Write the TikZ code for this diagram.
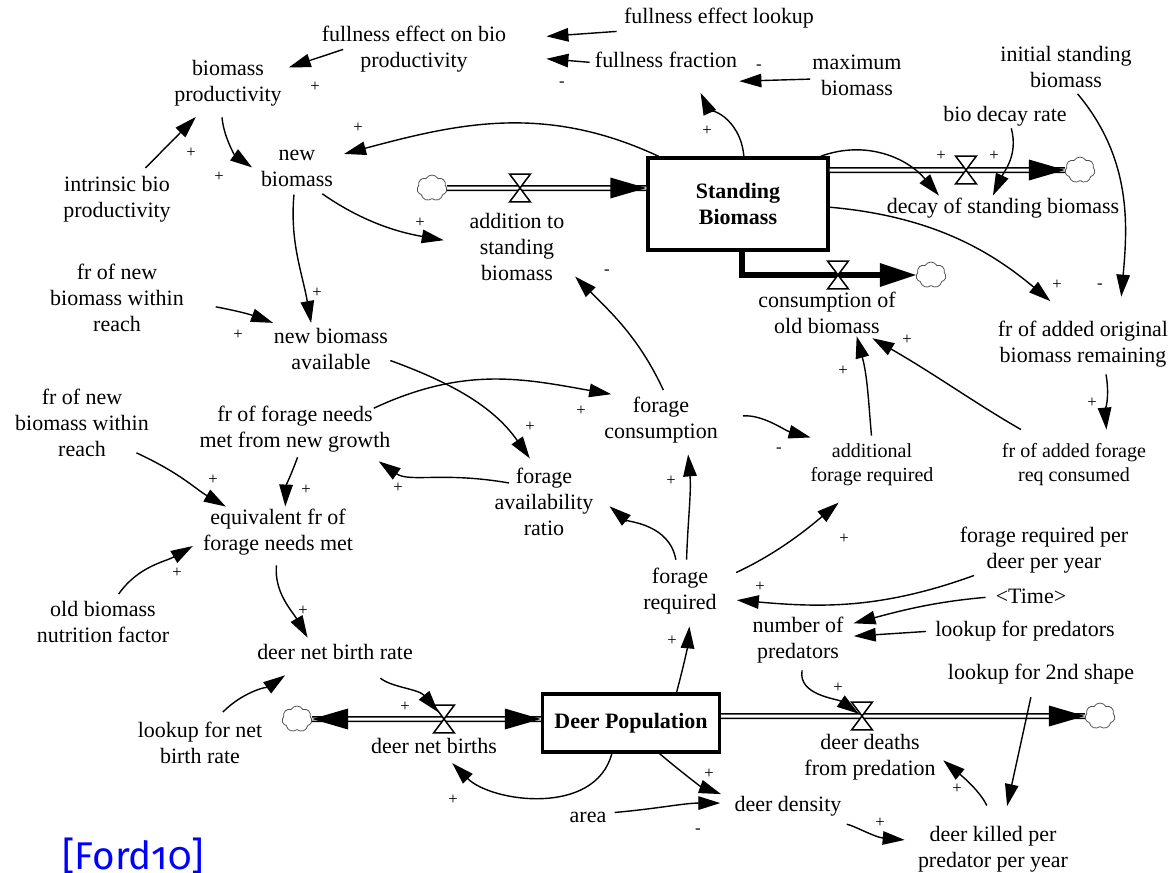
\documentclass[tikz,border=0pt]{standalone}
\usepackage{fontspec}
\setmainfont{Liberation Serif}
\newfontfamily\fordfont[Numbers=OldStyle]{Fira Sans}
\usetikzlibrary{arrows.meta,shapes.symbols}
\begin{document}
\begin{tikzpicture}[x=0.02cm,y=0.02cm,
  lbl/.style={align=center, inner sep=0.4mm, font=\fontsize{12.5}{14.8}\selectfont},
  sml/.style={align=center, inner sep=0.4mm, font=\fontsize{11.4}{13.6}\selectfont},
  stock/.style={draw, line width=0.7mm, align=center, minimum width=36mm, minimum height=18.4mm, font=\bfseries\fontsize{12.5}{14.8}\selectfont},
  sgn/.style={inner sep=0, font=\fontsize{9.5}{10}\selectfont},
  link/.style={line width=0.28mm, -{Triangle[length=4.4mm,width=2.7mm]}},
  pipe/.style={draw, line width=0.3mm, double=white, double distance=0.6mm},
  thickpipe/.style={draw, line width=1.2mm, line join=miter},
  cloudn/.style={cloud, cloud puffs=7, cloud puff arc=120, aspect=1.2, draw=black!70, line width=0.15mm, fill=white, minimum width=6mm, minimum height=5.2mm, inner sep=0},
  valve/.style={inner sep=0, minimum width=4mm, minimum height=5.4mm},
  valvel/.style={fill=white, line width=0.3mm, line join=miter},
  fordn/.style={inner sep=0, text=blue, font=\fordfont\fontsize{22}{26}\selectfont}]
\useasboundingbox (0,0) rectangle (1171,-873);

% ---------- variables ----------
\node[lbl] (fe) at (414,-49) {fullness effect on bio\\productivity};
\node[lbl] (bp) at (228,-83) {biomass\\productivity};
\node[lbl] (fel) at (719,-18) {fullness effect lookup};
\node[lbl] (ff) at (666,-60) {fullness fraction};
\node[lbl] (mb) at (857,-75) {maximum\\biomass};
\node[lbl] (isb) at (1066,-67) {initial standing\\biomass};
\node[lbl] (bdr) at (1005,-116) {bio decay rate};
\node[stock] (SB) at (738,-204) {Standing\\Biomass};
\node[lbl] (ast) at (517,-247) {addition to\\standing\\biomass};
\node[lbl] (nb) at (297,-168) {new\\biomass};
\node[lbl] (ibp) at (117,-199) {intrinsic bio\\productivity};
\node[lbl] (dsb) at (1003,-208) {decay of standing biomass};
\node[lbl] (cob) at (827,-313) {consumption of\\old biomass};
\node[lbl] (fao) at (1083,-344) {fr of added original\\biomass remaining};
\node[lbl] (fnr1) at (117,-298) {fr of new\\biomass within\\reach};
\node[lbl] (nba) at (331,-349) {new biomass\\available};
\node[lbl] (fnr2) at (82,-423) {fr of new\\biomass within\\reach};
\node[lbl] (frfn) at (295,-429) {fr of forage needs\\met from new growth};
\node[lbl] (fc) at (661,-420) {forage\\consumption};
\node[sml] (afr) at (872,-465) {additional\\forage required};
\node[sml] (farc) at (1074,-465) {fr of added forage\\req consumed};
\node[lbl] (far) at (544,-502) {forage\\availability\\ratio};
\node[lbl] (efn) at (278,-532) {equivalent fr of\\forage needs met};
\node[lbl] (fr) at (680,-591) {forage\\required};
\node[lbl] (frpd) at (1044,-550) {forage required per\\deer per year};
\node[lbl] (time) at (1031,-596) {<Time>};
\node[lbl] (np) at (798,-640) {number of\\predators};
\node[lbl] (lfp) at (1025,-631) {lookup for predators};
\node[lbl] (obn) at (103,-622) {old biomass\\nutrition factor};
\node[lbl] (dnbr) at (335,-652) {deer net birth rate};
\node[lbl] (l2s) at (1041,-674) {lookup for 2nd shape};
\node[lbl] (lnbr) at (200,-743) {lookup for net\\birth rate};
\node[stock, minimum width=35.4mm, minimum height=11.6mm] (DP) at (631,-723) {Deer Population};
\node[lbl] (dnb) at (434,-746) {deer net births};
\node[lbl] (ddp) at (870,-757) {deer deaths\\from predation};
\node[lbl] (area) at (588,-817) {area};
\node[lbl] (dd) at (788,-806) {deer density};
\node[lbl] (dkp) at (993,-849) {deer killed per\\predator per year};
\node[fordn, anchor=base west] (ford) at (62,-869) {[Ford10]};

% ---------- clouds and valves ----------
\node[cloudn] (c1) at (432,-188) {};
\node[cloudn] (c2) at (1080,-170) {};
\node[cloudn] (c3) at (931,-275) {};
\node[cloudn] (c4) at (297,-719) {};
\node[cloudn] (c5) at (1100,-716) {};
\node[valve] (v1) at (520,-188) {};
\node[valve] (v2) at (966,-170) {};
\node[valve] (v3) at (838,-275) {};
\node[valve] (v4) at (444,-719) {};
\node[valve] (v5) at (862,-716) {};

% ---------- pipes ----------
\draw[pipe] (c1) -- (SB.west |- c1);
\fill (SB.west |- c1) -- ++(-36,10.5) -- ++(0,-21) -- cycle;
\draw[pipe] (SB.east |- c2) -- (c2);
\fill (c2.west) -- ++(-36,10.5) -- ++(0,-21) -- cycle;
\draw[thickpipe] ([xshift=0.8mm]SB.south) |- ([xshift=-4mm]c3.west);
\fill (c3.west) -- ++(-36,12) -- ++(0,-24) -- cycle;
\draw[pipe] (c4) -- (DP.west |- c4);
\fill (c4.east) -- ++(36,10.5) -- ++(0,-21) -- cycle;
\fill (DP.west |- c4) -- ++(-36,10.5) -- ++(0,-21) -- cycle;
\draw[pipe] (DP.east |- c5) -- (c5);
\fill (c5.west) -- ++(-36,10.5) -- ++(0,-21) -- cycle;
\foreach \v in {v1,v2,v3,v4,v5}
  \draw[valvel] (\v.north west) -- (\v.north east) -- (\v.south west) -- (\v.south east) -- cycle;

% ---------- links ----------
\draw[link, shorten <=-5mm, shorten >=1mm] (fe.185) -- (bp.14);
\draw[link, shorten <=2.8mm, shorten >=7.6mm] (fel.188) -- (fe.6);
\draw[link, shorten <=0.6mm, shorten >=7.6mm] (ff.182) -- (fe.-4);
\draw[link] (mb.185) -- ([yshift=-2.2mm]ff.south east);
\draw[link, shorten >=5mm] (SB.83) to[out=95,in=-65] (ff.-23);
\draw[link, shorten >=1.8mm] (SB.149) to[out=155,in=15] (nb.17);
\draw[link, shorten <=1.6mm, shorten >=2.4mm] (ibp.48) -- (bp.227);
\draw[link, shorten <=1.8mm, shorten >=1.6mm] (bp.255) to[out=-85,in=145] (nb.186);
\draw[link, shorten <=1.8mm, shorten >=4.8mm] (nb.-49) to[out=-35,in=170] (ast.177);
\draw[link, shorten <=1.2mm, shorten >=0.6mm] (nb.263) to[out=-95,in=100] (nba.130);
\draw[link, shorten <=6mm, shorten >=1.8mm] (fnr1.-3) to[out=-10,in=160] (nba.155);
\draw[link, shorten >=1.8mm] (nba.-11) to[out=-20,in=125] (far.104);
\draw[link, shorten <=-2.2mm, shorten >=0.4mm] (frfn.16) to[out=25,in=170] (fc.152);
\draw[link, shorten <=-3.4mm, shorten >=2.4mm] (far.157) to[out=170,in=-35] (frfn.-19);
\draw[link, shorten <=0.6mm] (frfn.-82) to[out=-110,in=88] (efn.74);
\draw[link, shorten <=-3mm] (fnr2.-28) to[out=-25,in=150] (efn.154);
\draw[link, shorten <=1.2mm, shorten >=1.8mm] (obn.62) to[out=55,in=210] (efn.187);
\draw[link, shorten <=1.6mm, shorten >=1mm] (efn.268) to[out=-95,in=120] (dnbr.158);
\draw[link, shorten <=2.2mm, shorten >=4.6mm] (lnbr.57) to[out=45,in=215] (dnbr.198);
\draw[link, shorten <=5mm, shorten >=1.8mm] (dnbr.-21) to[out=-40,in=130] (v4.center);
\draw[link, shorten >=2mm] (DP.238) to[out=-105,in=-45] (dnb.-42);
\draw[link, shorten >=2mm] (DP.34) to[out=75,in=-95] (fr.-68);
\draw[link, shorten >=2.4mm] (DP.-47) to[out=-40,in=160] (dd.172);
\draw[link, shorten <=1.2mm, shorten >=2.4mm] (area.11) to[out=5,in=180] (dd.177);
\draw[link, shorten <=6.8mm, shorten >=2.2mm] (dd.-26) to[out=-10,in=175] (dkp.174);
\draw[link, shorten <=4mm, shorten >=1.4mm] (dkp.85) to[out=115,in=-40] (ddp.1);
\draw[link, shorten <=2.2mm, shorten >=3.6mm] (l2s.238) -- (dkp.68);
\draw[link, shorten <=1mm, shorten >=0.8mm] (np.-79) to[out=-100,in=145] (v5.center);
\draw[link, shorten >=3.6mm] (frpd.200) to[out=200,in=-5] (fr.-11);
\draw[link, shorten <=1.6mm, shorten >=1.6mm] (time.181) to[out=185,in=15] (np.17);
\draw[link, shorten <=1.4mm, shorten >=1.6mm] (lfp.180) -- (np.4);
\draw[link, shorten <=1.2mm, shorten >=1.8mm] (fr.76) to[out=88,in=-85] (fc.-44);
\draw[link, shorten <=1.2mm, shorten >=3.6mm] (fr.97) to[out=100,in=-40] (far.8);
\draw[link, shorten <=3.8mm, shorten >=4.4mm] (fr.15) to[out=25,in=220] (afr.235);
\draw[link, shorten <=4.6mm, shorten >=3.2mm] (fc.2) to[out=5,in=165] (afr.153);
\draw[link, shorten <=1mm, shorten >=2.4mm] (fc.80) to[out=115,in=-45] (ast.-23);
\draw[link, shorten <=1.2mm] (afr.90) to[out=95,in=-75] (cob.-38);
\draw[link, shorten <=4.8mm, shorten >=0.8mm] (farc.144) to[out=150,in=-30] (cob.-29);
\draw[link, shorten <=1mm, shorten >=2.4mm] (fao.-49) to[out=-80,in=95] (farc.35);
\draw[link, shorten <=1mm, shorten >=4.4mm] (isb.-70) to[out=-50,in=85] (fao.35);
\draw[link, shorten >=5.4mm] (SB.-2) to[out=-5,in=140] (fao.115);
\draw[link] (SB.30) to[out=20,in=130] (dsb.169);
\draw[link] (bdr.-63) to[out=-75,in=65] (dsb.129);

% ---------- polarity signs ----------
\node[sgn] (s1) at (315,-87) {+};
\node[sgn] (s2) at (562,-84) {-};
\node[sgn] (s3) at (759,-67) {-};
\node[sgn] (s4) at (707,-131) {+};
\node[sgn] (s5) at (358,-128) {+};
\node[sgn] (s6) at (191,-153) {+};
\node[sgn] (s7) at (219,-177) {+};
\node[sgn] (s8) at (420,-223) {+};
\node[sgn] (s9) at (317,-293) {+};
\node[sgn] (s10) at (238,-335) {+};
\node[sgn] (s11) at (530,-427) {+};
\node[sgn] (s12) at (581,-411) {+};
\node[sgn] (s13) at (398,-488) {+};
\node[sgn] (s14) at (306,-490) {+};
\node[sgn] (s15) at (213,-480) {+};
\node[sgn] (s16) at (177,-573) {+};
\node[sgn] (s17) at (303,-611) {+};
\node[sgn] (s18) at (405,-707) {+};
\node[sgn] (s19) at (453,-800) {+};
\node[sgn] (s20) at (672,-641) {+};
\node[sgn] (s21) at (709,-774) {+};
\node[sgn] (s22) at (698,-831) {-};
\node[sgn] (s23) at (880,-823) {+};
\node[sgn] (s24) at (957,-789) {+};
\node[sgn] (s25) at (838,-688) {+};
\node[sgn] (s26) at (760,-587) {+};
\node[sgn] (s27) at (671,-481) {+};
\node[sgn] (s28) at (625,-523) {-};
\node[sgn] (s29) at (844,-539) {+};
\node[sgn] (s30) at (779,-450) {-};
\node[sgn] (s31) at (607,-272) {-};
\node[sgn] (s32) at (843,-371) {+};
\node[sgn] (s33) at (907,-340) {+};
\node[sgn] (s34) at (1092,-403) {+};
\node[sgn] (s35) at (1100,-286) {-};
\node[sgn] (s36) at (1057,-285) {+};
\node[sgn] (s37) at (941,-156) {+};
\node[sgn] (s38) at (994,-156) {+};
\end{tikzpicture}
\end{document}
